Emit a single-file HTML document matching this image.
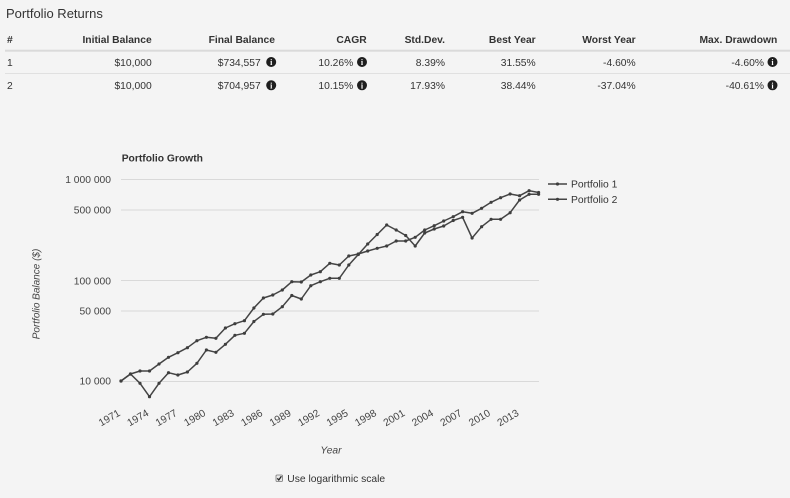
<!DOCTYPE html>
<html>
<head>
<meta charset="utf-8">
<style>
html,body{margin:0;padding:0;background:#f4f4f4;}
body{width:790px;height:498px;overflow:hidden;}
svg{display:block;font-family:"Liberation Sans",Arial,sans-serif;}
</style>
</head>
<body>
<svg width="790" height="498" viewBox="0 0 790 498" xmlns="http://www.w3.org/2000/svg">
<defs>
<marker id="dot" markerWidth="4" markerHeight="4" refX="2" refY="2" markerUnits="userSpaceOnUse">
<circle cx="2" cy="2" r="1.6" fill="#3e3e3e"/>
</marker>
</defs>
<rect width="790" height="498" fill="#f4f4f4"/>

<!-- Table -->
<text x="6" y="18" font-size="13" fill="#333">Portfolio Returns</text>
<g font-size="10.3" font-weight="bold" fill="#333">
<text x="7" y="43">#</text>
<text x="151.7" y="43" text-anchor="end">Initial Balance</text>
<text x="275" y="43" text-anchor="end">Final Balance</text>
<text x="366.7" y="43" text-anchor="end">CAGR</text>
<text x="445" y="43" text-anchor="end">Std.Dev.</text>
<text x="535.7" y="43" text-anchor="end">Best Year</text>
<text x="635.7" y="43" text-anchor="end">Worst Year</text>
<text x="777.3" y="43" text-anchor="end">Max. Drawdown</text>
</g>
<rect x="5" y="49.7" width="785" height="2" fill="#dadada"/>
<rect x="5" y="73" width="785" height="1" fill="#e0e0e0"/>
<g font-size="10.3" fill="#333">
<text x="7" y="65.8">1</text>
<text x="151.7" y="65.8" text-anchor="end">$10,000</text>
<text x="260.7" y="65.8" text-anchor="end">$734,557</text>
<text x="353.3" y="65.8" text-anchor="end">10.26%</text>
<text x="445" y="65.8" text-anchor="end">8.39%</text>
<text x="535.7" y="65.8" text-anchor="end">31.55%</text>
<text x="635.7" y="65.8" text-anchor="end">-4.60%</text>
<text x="764" y="65.8" text-anchor="end">-4.60%</text>
<text x="7" y="89">2</text>
<text x="151.7" y="89" text-anchor="end">$10,000</text>
<text x="260.7" y="89" text-anchor="end">$704,957</text>
<text x="353.3" y="89" text-anchor="end">10.15%</text>
<text x="445" y="89" text-anchor="end">17.93%</text>
<text x="535.7" y="89" text-anchor="end">38.44%</text>
<text x="635.7" y="89" text-anchor="end">-37.04%</text>
<text x="764" y="89" text-anchor="end">-40.61%</text>
</g>
<g>
<circle cx="271.2" cy="62" r="5" fill="#1e1e1e"/>
<circle cx="362" cy="62" r="5" fill="#1e1e1e"/>
<circle cx="772.5" cy="62" r="5" fill="#1e1e1e"/>
<circle cx="271.2" cy="85.3" r="5" fill="#1e1e1e"/>
<circle cx="362" cy="85.3" r="5" fill="#1e1e1e"/>
<circle cx="772.5" cy="85.3" r="5" fill="#1e1e1e"/>
</g>
<g font-size="8" font-weight="bold" fill="#fff" text-anchor="middle" font-family="'Liberation Serif',serif">
<text x="271.2" y="65">i</text>
<text x="362" y="65">i</text>
<text x="772.5" y="65">i</text>
<text x="271.2" y="88.3">i</text>
<text x="362" y="88.3">i</text>
<text x="772.5" y="88.3">i</text>
</g>

<!-- Chart -->
<text x="121.7" y="161.5" font-size="10.3" font-weight="bold" fill="#333">Portfolio Growth</text>
<g stroke="#d9d9d9" stroke-width="1">
<line x1="121" y1="179.5" x2="539" y2="179.5"/>
<line x1="121" y1="210" x2="539" y2="210"/>
<line x1="121" y1="280.5" x2="539" y2="280.5"/>
<line x1="121" y1="311" x2="539" y2="311"/>
<line x1="121" y1="381.5" x2="539" y2="381.5"/>
</g>
<g font-size="10.3" fill="#444" text-anchor="end">
<text x="111" y="183">1 000 000</text>
<text x="111" y="213.7">500 000</text>
<text x="111" y="284.4">100 000</text>
<text x="111" y="314.6">50 000</text>
<text x="111" y="384.7">10 000</text>
</g>
<text transform="translate(39.5,294) rotate(-90)" text-anchor="middle" font-size="10" font-style="italic" fill="#444">Portfolio Balance ($)</text>

<g font-size="10.3" fill="#444" text-anchor="end">
<text x="121" y="415" transform="rotate(-30 121 415)">1971</text>
<text x="149.5" y="415" transform="rotate(-30 149.5 415)">1974</text>
<text x="177.9" y="415" transform="rotate(-30 177.9 415)">1977</text>
<text x="206.4" y="415" transform="rotate(-30 206.4 415)">1980</text>
<text x="234.9" y="415" transform="rotate(-30 234.9 415)">1983</text>
<text x="263.4" y="415" transform="rotate(-30 263.4 415)">1986</text>
<text x="291.8" y="415" transform="rotate(-30 291.8 415)">1989</text>
<text x="320.3" y="415" transform="rotate(-30 320.3 415)">1992</text>
<text x="348.8" y="415" transform="rotate(-30 348.8 415)">1995</text>
<text x="377.2" y="415" transform="rotate(-30 377.2 415)">1998</text>
<text x="405.7" y="415" transform="rotate(-30 405.7 415)">2001</text>
<text x="434.2" y="415" transform="rotate(-30 434.2 415)">2004</text>
<text x="462.6" y="415" transform="rotate(-30 462.6 415)">2007</text>
<text x="491.1" y="415" transform="rotate(-30 491.1 415)">2010</text>
<text x="519.6" y="415" transform="rotate(-30 519.6 415)">2013</text>
</g>
<text x="331" y="453.5" text-anchor="middle" font-size="10.3" font-style="italic" fill="#444">Year</text>

<g fill="none" stroke="#444" stroke-width="1.5" stroke-linejoin="round" marker-start="url(#dot)" marker-mid="url(#dot)" marker-end="url(#dot)">
<polyline points="121,381 130.5,374 140,371 149.5,371 159,364 168.5,357.3 177.9,352.7 187.4,347.7 196.9,340.7 206.4,337.3 215.9,338.3 225.4,328 234.9,323.7 244.4,320.7 253.9,308 263.4,298 272.8,295 282.3,290 291.8,281.7 301.3,282 310.8,275 320.3,271.7 329.8,263.3 339.3,265 348.8,256 358.3,254 367.7,251 377.2,248.3 386.7,246 396.2,241 405.7,241 415.2,237.3 424.7,230 434.2,225.7 443.7,221 453.2,216.7 462.6,211.7 472.1,213.3 481.6,208.3 491.1,202.3 500.6,197.7 510.1,194 519.6,195.7 529.1,190.7 538.6,192.5"/>
<polyline points="121,381 130.5,374 140,383.3 149.5,396.7 159,383.3 168.5,372.7 177.9,375 187.4,372 196.9,363.3 206.4,350 215.9,352.3 225.4,344.3 234.9,335.3 244.4,333.3 253.9,321.5 263.4,314.3 272.8,314 282.3,306.7 291.8,295.5 301.3,299 310.8,285.7 320.3,281.7 329.8,278.3 339.3,278.3 348.8,265 358.3,254.5 367.7,244 377.2,234.5 386.7,225 396.2,230 405.7,235.5 415.2,246 424.7,233 434.2,229 443.7,226 453.2,220.5 462.6,217.3 472.1,238 481.6,226.7 491.1,219.3 500.6,219.3 510.1,212.7 519.6,200 529.1,194.3 538.6,194.3"/>
</g>

<!-- Legend -->
<g stroke="#444" stroke-width="1.5">
<line x1="548" y1="184" x2="567" y2="184"/>
<line x1="548" y1="199.3" x2="567" y2="199.3"/>
</g>
<circle cx="557.5" cy="184" r="1.6" fill="#3e3e3e"/>
<circle cx="557.5" cy="199.3" r="1.6" fill="#3e3e3e"/>
<g font-size="10.3" fill="#333">
<text x="571" y="187.7">Portfolio 1</text>
<text x="571" y="203">Portfolio 2</text>
</g>

<!-- Checkbox -->
<rect x="276" y="475" width="6.5" height="6.5" rx="1" fill="#e8e8e8" stroke="#777" stroke-width="0.8"/>
<path d="M277.3,478.3 L278.8,480 L281.4,476.3" fill="none" stroke="#222" stroke-width="1.3"/>
<text x="287.3" y="482" font-size="10.3" fill="#333">Use logarithmic scale</text>
</svg>
</body>
</html>
